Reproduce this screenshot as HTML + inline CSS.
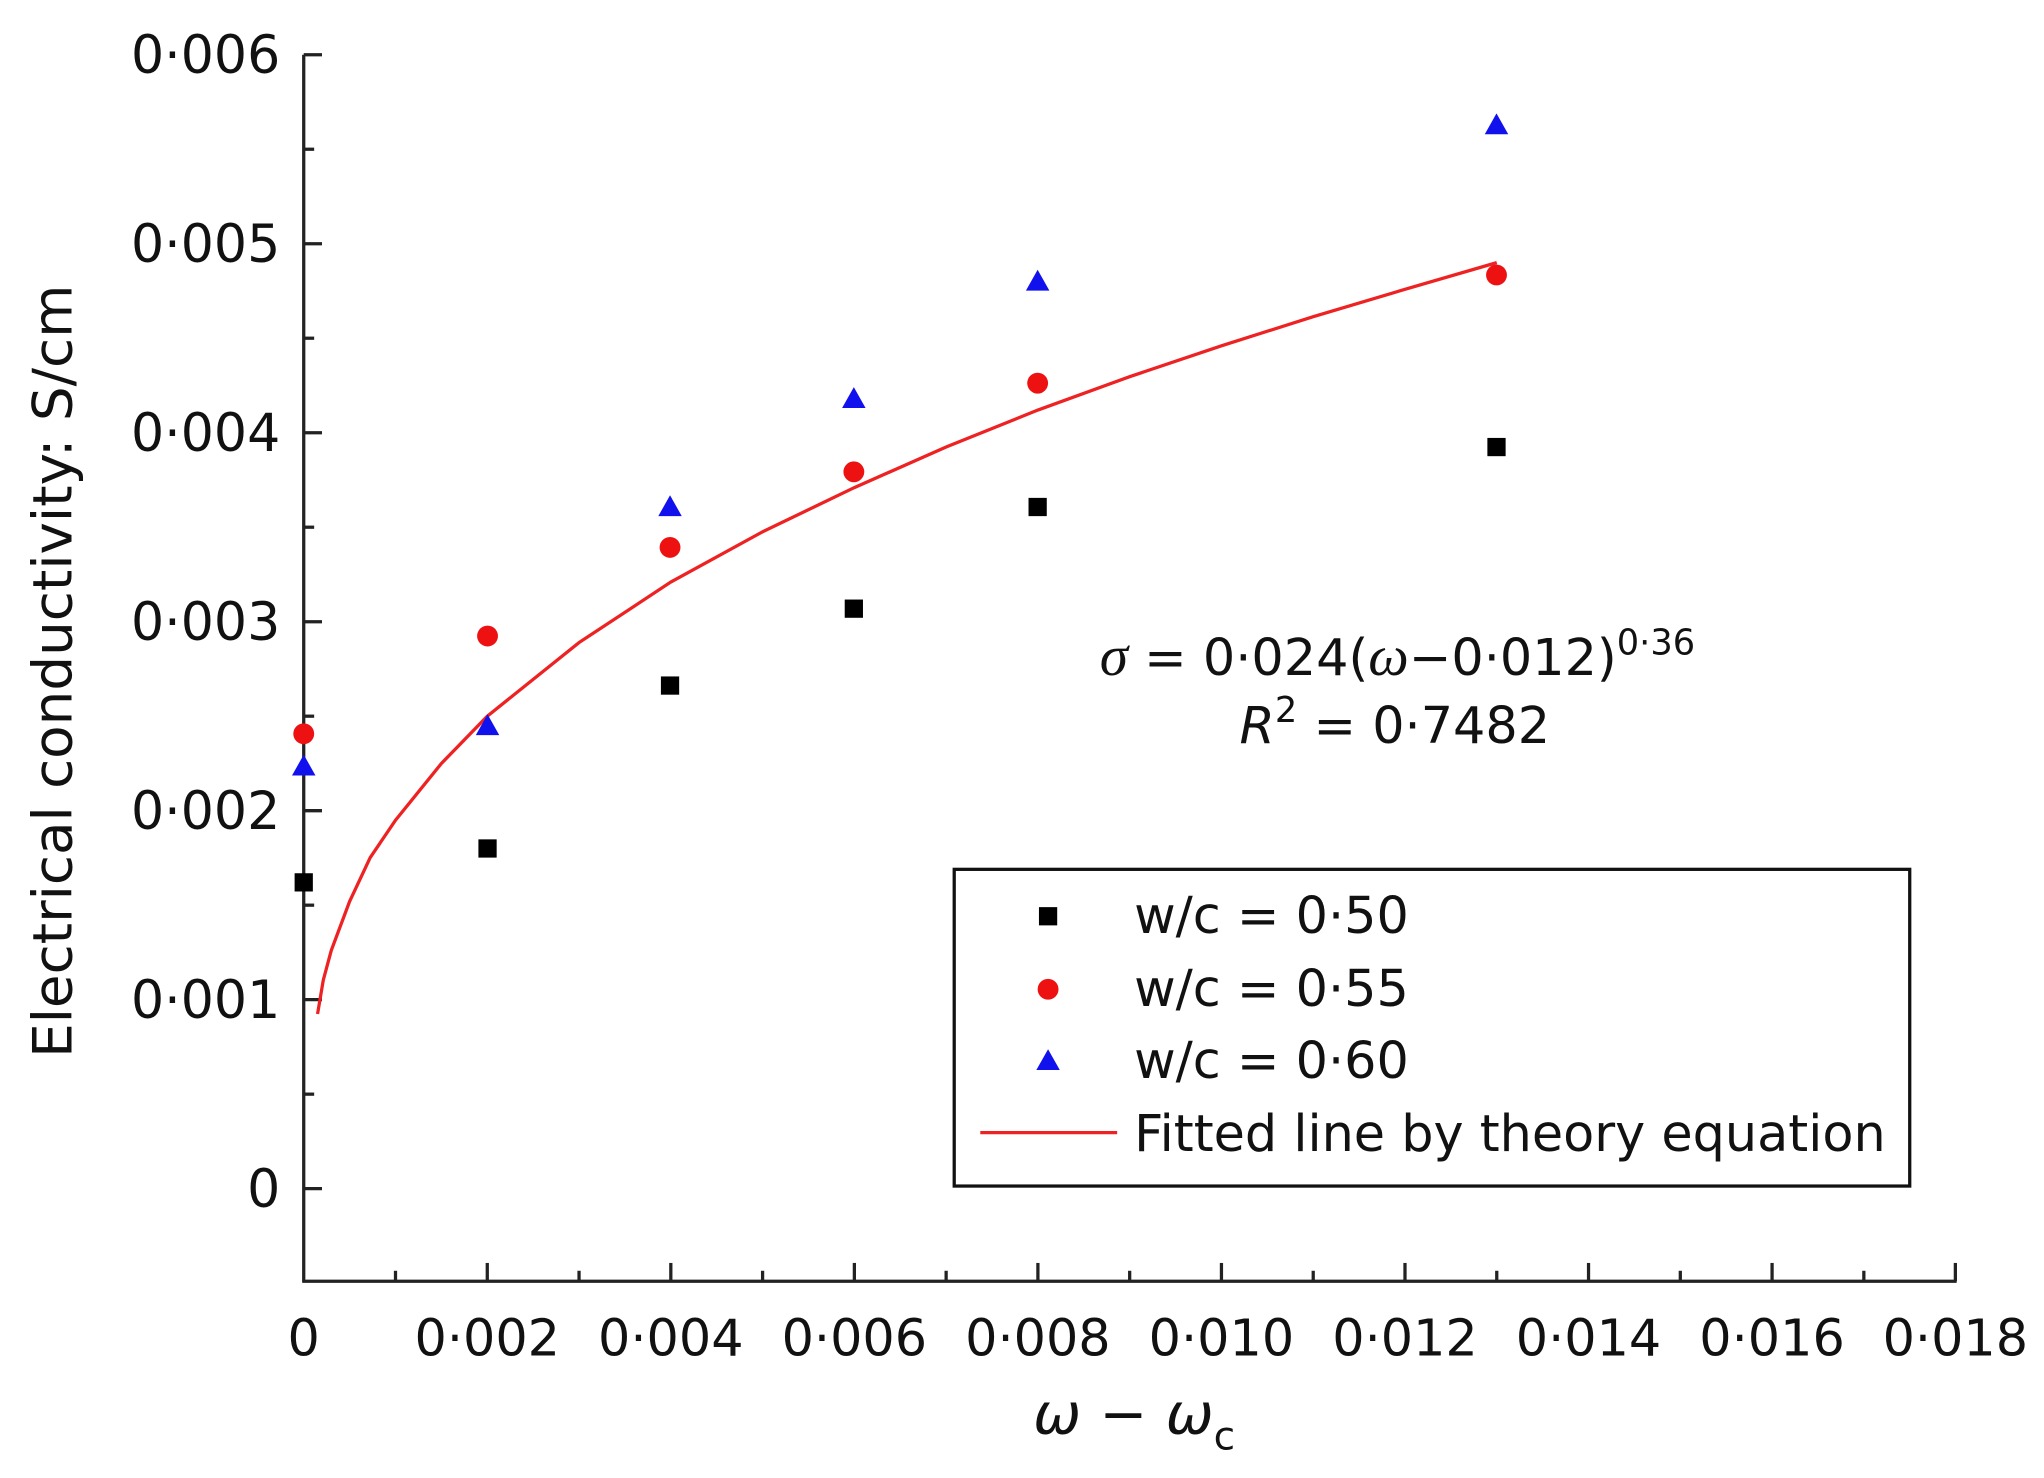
<!DOCTYPE html>
<html><head><meta charset="utf-8"><style>
html,body{margin:0;padding:0;background:#fff;}
svg{display:block;}
text{font-family:"DejaVu Sans","Liberation Sans",sans-serif;fill:#111;}
</style></head><body>
<svg width="2044" height="1478" viewBox="0 0 1568 1134" preserveAspectRatio="none" xmlns="http://www.w3.org/2000/svg">
<rect width="1568" height="1134" fill="#fff"/>
<g stroke="#222" stroke-width="2.5" fill="none">
<line x1="233" y1="42" x2="233" y2="984"/>
<line x1="232" y1="983" x2="1501" y2="983"/>
<line x1="233" y1="42" x2="247" y2="42"/>
<line x1="233" y1="187" x2="247" y2="187"/>
<line x1="233" y1="332" x2="247" y2="332"/>
<line x1="233" y1="477" x2="247" y2="477"/>
<line x1="233" y1="622" x2="247" y2="622"/>
<line x1="233" y1="767" x2="247" y2="767"/>
<line x1="233" y1="912" x2="247" y2="912"/>
<line x1="233" y1="114.5" x2="241" y2="114.5"/>
<line x1="233" y1="259.5" x2="241" y2="259.5"/>
<line x1="233" y1="404.5" x2="241" y2="404.5"/>
<line x1="233" y1="549.5" x2="241" y2="549.5"/>
<line x1="233" y1="694.5" x2="241" y2="694.5"/>
<line x1="233" y1="839.5" x2="241" y2="839.5"/>
<line x1="373.8" y1="983" x2="373.8" y2="969"/>
<line x1="514.6" y1="983" x2="514.6" y2="969"/>
<line x1="655.4" y1="983" x2="655.4" y2="969"/>
<line x1="796.2" y1="983" x2="796.2" y2="969"/>
<line x1="937" y1="983" x2="937" y2="969"/>
<line x1="1077.8" y1="983" x2="1077.8" y2="969"/>
<line x1="1218.6" y1="983" x2="1218.6" y2="969"/>
<line x1="1359.4" y1="983" x2="1359.4" y2="969"/>
<line x1="1500" y1="983" x2="1500" y2="969"/>
<line x1="303.4" y1="983" x2="303.4" y2="975"/>
<line x1="444.2" y1="983" x2="444.2" y2="975"/>
<line x1="585" y1="983" x2="585" y2="975"/>
<line x1="725.8" y1="983" x2="725.8" y2="975"/>
<line x1="866.6" y1="983" x2="866.6" y2="975"/>
<line x1="1007.4" y1="983" x2="1007.4" y2="975"/>
<line x1="1148.2" y1="983" x2="1148.2" y2="975"/>
<line x1="1289" y1="983" x2="1289" y2="975"/>
<line x1="1429.8" y1="983" x2="1429.8" y2="975"/>
</g>
<g font-size="40" text-anchor="end">
<text x="215" y="56">0·006</text>
<text x="215" y="201">0·005</text>
<text x="215" y="346">0·004</text>
<text x="215" y="491">0·003</text>
<text x="215" y="636">0·002</text>
<text x="215" y="781">0·001</text>
<text x="215" y="926">0</text>
</g>
<g font-size="39" text-anchor="middle">
<text x="233" y="1040">0</text>
<text x="373.8" y="1040">0·002</text>
<text x="514.6" y="1040">0·004</text>
<text x="655.4" y="1040">0·006</text>
<text x="796.2" y="1040">0·008</text>
<text x="937" y="1040">0·010</text>
<text x="1077.8" y="1040">0·012</text>
<text x="1218.6" y="1040">0·014</text>
<text x="1359.4" y="1040">0·016</text>
<text x="1500" y="1040">0·018</text>
</g>
<text x="870" y="1100" font-size="44" text-anchor="middle" font-family="Liberation Serif,serif" font-style="italic">ω − ω<tspan font-style="normal" font-family="DejaVu Sans,sans-serif" font-size="30" dy="12">c</tspan></text>
<text transform="translate(55,515) rotate(-90)" font-size="42" text-anchor="middle">Electrical conductivity: S/cm</text>
<text x="1072" y="518" font-size="39" text-anchor="middle"><tspan font-family="Liberation Serif,serif" font-style="italic" font-size="44">σ</tspan> = 0·024(<tspan font-family="Liberation Serif,serif" font-style="italic" font-size="44">ω</tspan>−0·012)<tspan font-size="27" dy="-16">0·36</tspan></text>
<text x="1070" y="570" font-size="39" text-anchor="middle"><tspan font-style="italic">R</tspan><tspan font-size="27" dy="-16">2</tspan><tspan dy="16"> = 0·7482</tspan></text>
<polyline fill="none" stroke="#ee2222" stroke-width="2.5" points="243.6,778 248,752 254.1,729.3 268.2,691.6 284,658 303.4,629.3 338.6,585.8 373.8,549.5 444.2,493 514.6,446.6 585,408 655.4,374.1 725.8,343 796.2,314.6 866.6,289 937,265.3 1007.4,243 1077.8,222 1148.2,201.5"/>
<g fill="#000">
<rect x="226" y="670" width="14" height="14"/>
<rect x="367" y="644" width="14" height="14"/>
<rect x="507" y="519" width="14" height="14"/>
<rect x="648" y="460" width="14" height="14"/>
<rect x="789" y="382" width="14" height="14"/>
<rect x="1141" y="336" width="14" height="14"/>
</g>
<g fill="#ee1111">
<circle cx="233" cy="563" r="8"/>
<circle cx="374" cy="488" r="8"/>
<circle cx="514" cy="420" r="8"/>
<circle cx="655" cy="362" r="8"/>
<circle cx="796" cy="294" r="8"/>
<circle cx="1148" cy="211" r="8"/>
</g>
<g fill="#1111ee">
<polygon points="233,579 242,595 224,595"/>
<polygon points="374,548 383,564 365,564"/>
<polygon points="514,380 523,396 505,396"/>
<polygon points="655,297 664,313 646,313"/>
<polygon points="796,207 805,223 787,223"/>
<polygon points="1148,87 1157,103 1139,103"/>
</g>
<rect x="732" y="667" width="733" height="243" fill="#fff" stroke="#111" stroke-width="2.5"/>
<rect x="797" y="696" width="14" height="14" fill="#000"/>
<circle cx="804" cy="759" r="8" fill="#ee1111"/>
<polygon points="804,805 813,821 795,821" fill="#1111ee"/>
<line x1="752" y1="869" x2="857" y2="869" stroke="#ee2222" stroke-width="2.5"/>
<g font-size="39">
<text x="870" y="716">w/c = 0·50</text>
<text x="870" y="772">w/c = 0·55</text>
<text x="870" y="827">w/c = 0·60</text>
<text x="870" y="883">Fitted line by theory equation</text>
</g>
</svg>
</body></html>
